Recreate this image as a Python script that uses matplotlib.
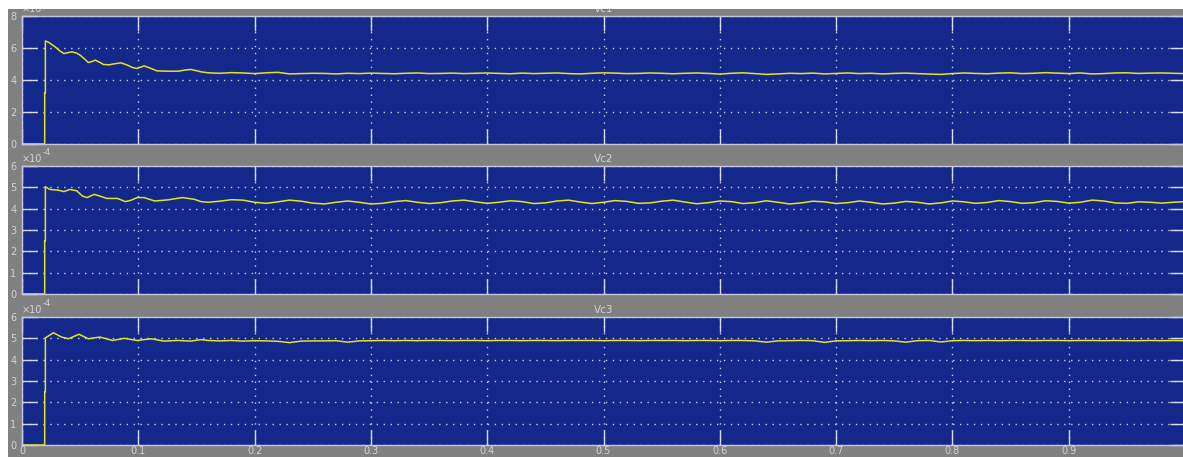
import numpy as np
import matplotlib
matplotlib.use("Agg")
import matplotlib.pyplot as plt
from matplotlib.patches import Rectangle

# capacitor voltages (units of 1e-4), start-up transient
t_start = [0, 0.0195, 0.0195, 0.0201, 0.0201]

vc1_t = [0.023, 0.0285, 0.032, 0.036, 0.040, 0.043, 0.047, 0.050, 0.054, 0.057,
         0.060, 0.063, 0.067, 0.070, 0.075, 0.080, 0.085, 0.090, 0.095, 0.099,
         0.105, 0.110, 0.116, 0.125, 0.134, 0.140, 0.145, 0.150, 0.154]
vc1_v = [0, 0, 3.2, 3.2, 6.44,
         6.35, 6.07, 5.85, 5.65, 5.72, 5.76, 5.68, 5.55, 5.30, 5.09,
         5.15, 5.24, 5.10, 4.97, 4.95, 5.02, 5.07, 4.95, 4.78, 4.72,
         4.88, 4.75, 4.57, 4.55, 4.55, 4.62, 4.66, 4.58, 4.51]

vc2_t = [0.024, 0.031, 0.036, 0.041, 0.047, 0.052, 0.056, 0.062, 0.067, 0.073,
         0.082, 0.089, 0.094, 0.099, 0.105, 0.114, 0.125, 0.138, 0.148, 0.154]
vc2_v = [0, 0, 2.5, 2.5, 5.03,
         4.90, 4.87, 4.80, 4.90, 4.84, 4.59, 4.52, 4.67, 4.59, 4.48,
         4.48, 4.33, 4.40, 4.52, 4.52, 4.36, 4.41, 4.52, 4.44, 4.33]

vc3_t = [0.027, 0.034, 0.040, 0.049, 0.057, 0.067, 0.078, 0.088, 0.099, 0.111,
         0.122, 0.134, 0.145, 0.154]
vc3_v = [0, 0, 2.5, 2.5, 5.02,
         5.26, 5.06, 4.98, 5.19, 4.98, 5.06, 4.90, 5.00, 4.90, 4.98,
         4.87, 4.90, 4.87, 4.94]

# steady state, sampled every 10 ms from 0.16 s to 1.00 s
t_steady = np.round(np.arange(0.16, 1.0001, 0.01), 2)

vc1_steady = [4.45, 4.42, 4.46, 4.44, 4.40, 4.45, 4.48, 4.38, 4.40, 4.42,
              4.41, 4.38, 4.42, 4.40, 4.43, 4.41, 4.39, 4.42, 4.44, 4.40,
              4.41, 4.43, 4.40, 4.42, 4.44, 4.41, 4.39, 4.43, 4.40, 4.42,
              4.44, 4.40, 4.38, 4.42, 4.45, 4.43, 4.40, 4.41, 4.44, 4.42,
              4.39, 4.42, 4.44, 4.41, 4.37, 4.42, 4.45, 4.40, 4.35, 4.38,
              4.42, 4.40, 4.43, 4.38, 4.41, 4.44, 4.40, 4.42, 4.38, 4.41,
              4.43, 4.40, 4.37, 4.35, 4.40, 4.44, 4.41, 4.39, 4.43, 4.45,
              4.40, 4.42, 4.46, 4.43, 4.40, 4.44, 4.38, 4.40, 4.44, 4.45,
              4.41, 4.43, 4.44, 4.42, 4.40]

vc2_steady = [4.30, 4.35, 4.42, 4.40, 4.30, 4.25, 4.32, 4.40, 4.35, 4.26,
              4.22, 4.30, 4.36, 4.30, 4.22, 4.25, 4.33, 4.38, 4.30, 4.24,
              4.28, 4.36, 4.40, 4.32, 4.25, 4.30, 4.37, 4.33, 4.24, 4.27,
              4.36, 4.40, 4.31, 4.24, 4.30, 4.38, 4.34, 4.25, 4.27, 4.35,
              4.40, 4.31, 4.23, 4.28, 4.36, 4.33, 4.24, 4.28, 4.37, 4.30,
              4.22, 4.27, 4.35, 4.32, 4.24, 4.28, 4.36, 4.30, 4.22, 4.26,
              4.34, 4.30, 4.22, 4.27, 4.36, 4.32, 4.25, 4.29, 4.38, 4.33,
              4.25, 4.28, 4.37, 4.34, 4.26, 4.30, 4.40, 4.36, 4.27, 4.25,
              4.32, 4.30, 4.26, 4.30, 4.33]

vc3_steady = [4.90, 4.88, 4.90, 4.87, 4.89, 4.88, 4.86, 4.80, 4.87, 4.88,
              4.88, 4.89, 4.82, 4.88, 4.89, 4.90, 4.89, 4.90, 4.89, 4.90,
              4.90, 4.89, 4.90, 4.90, 4.89, 4.90, 4.90, 4.89, 4.90, 4.90,
              4.89, 4.90, 4.90, 4.90, 4.89, 4.90, 4.90, 4.89, 4.90, 4.90,
              4.90, 4.89, 4.90, 4.90, 4.89, 4.90, 4.90, 4.88, 4.82, 4.88,
              4.89, 4.90, 4.89, 4.81, 4.88, 4.89, 4.90, 4.89, 4.90, 4.88,
              4.82, 4.89, 4.90, 4.83, 4.89, 4.90, 4.89, 4.90, 4.89, 4.90,
              4.90, 4.89, 4.90, 4.90, 4.89, 4.90, 4.90, 4.89, 4.90, 4.89,
              4.89, 4.90, 4.89, 4.90, 4.89]

titles = ["Vc1", "Vc2", "Vc3"]
y_tops = [8, 6, 6]
x_ticks = [0, 0.1, 0.2, 0.3, 0.4, 0.5, 0.6, 0.7, 0.8, 0.9]
x_tick_labels = ["0", "0.1", "0.2", "0.3", "0.4", "0.5", "0.6", "0.7", "0.8", "0.9"]

series = [
    (t_start + vc1_t + list(t_steady), vc1_v + vc1_steady),
    (t_start + vc2_t + list(t_steady), vc2_v + vc2_steady),
    (t_start + vc3_t + list(t_steady), vc3_v + vc3_steady),
]

W, H = 1183, 457
fig = plt.figure(figsize=(W / 100, H / 100), dpi=100, facecolor="white")
fig.patches.append(Rectangle((8 / W, 0), 1, 1 - 9 / H, transform=fig.transFigure,
                             facecolor="#808080", edgecolor="none", zorder=-5))

bg = "#13288a"
fg = "#d4d4d4"
line_col = "#e4e41c"
tops_px = [16, 166, 317]

for i, ((t, v), title, ytop, top_px) in enumerate(zip(series, titles, y_tops, tops_px)):
    ax = fig.add_axes([22 / W, 1 - (top_px + 128) / H, 1163 / W, 128 / H])
    ax.set_facecolor(bg)
    ax.plot(t, v, color=line_col, lw=1.1)
    ax.set_xlim(0, 1)
    ax.set_ylim(0, ytop)
    ax.set_yticks(range(0, ytop + 1, 2 if ytop == 8 else 1))
    ax.set_xticks(x_ticks)
    if i == 2:
        ax.set_xticklabels(x_tick_labels)
    else:
        ax.set_xticklabels([])
    ax.grid(True, color="#c8d0f0", linestyle=(0, (1, 4)), lw=1)
    ax.tick_params(direction="in", length=11, width=1, color="#d8dcf0",
                   top=True, right=True, labelsize=7, labelcolor=fg)
    ax.tick_params(axis="x", pad=1)
    ax.tick_params(axis="y", pad=4)
    for s in ax.spines.values():
        s.set_color("#c4c8dc")
        s.set_linewidth(1)
    ax.set_title(title, color=fg, fontsize=7.5, pad=3)
    # exponent label above the y axis
    fig.text(22 / W, 1 - (top_px - 2) / H, "\u00d710", color=fg, fontsize=7,
             ha="left", va="bottom")
    fig.text(43 / W, 1 - (top_px - 9) / H, "-4", color=fg, fontsize=6,
             ha="left", va="bottom")

# white border strip at the top and left of the frame
fig.patches.append(Rectangle((0, 1 - 9 / H), 1, 9 / H, transform=fig.transFigure,
                             facecolor="white", edgecolor="none", zorder=10))
fig.patches.append(Rectangle((0, 0), 8 / W, 1, transform=fig.transFigure,
                             facecolor="white", edgecolor="none", zorder=10))

fig.savefig("out.png", dpi=100, facecolor=fig.get_facecolor())
